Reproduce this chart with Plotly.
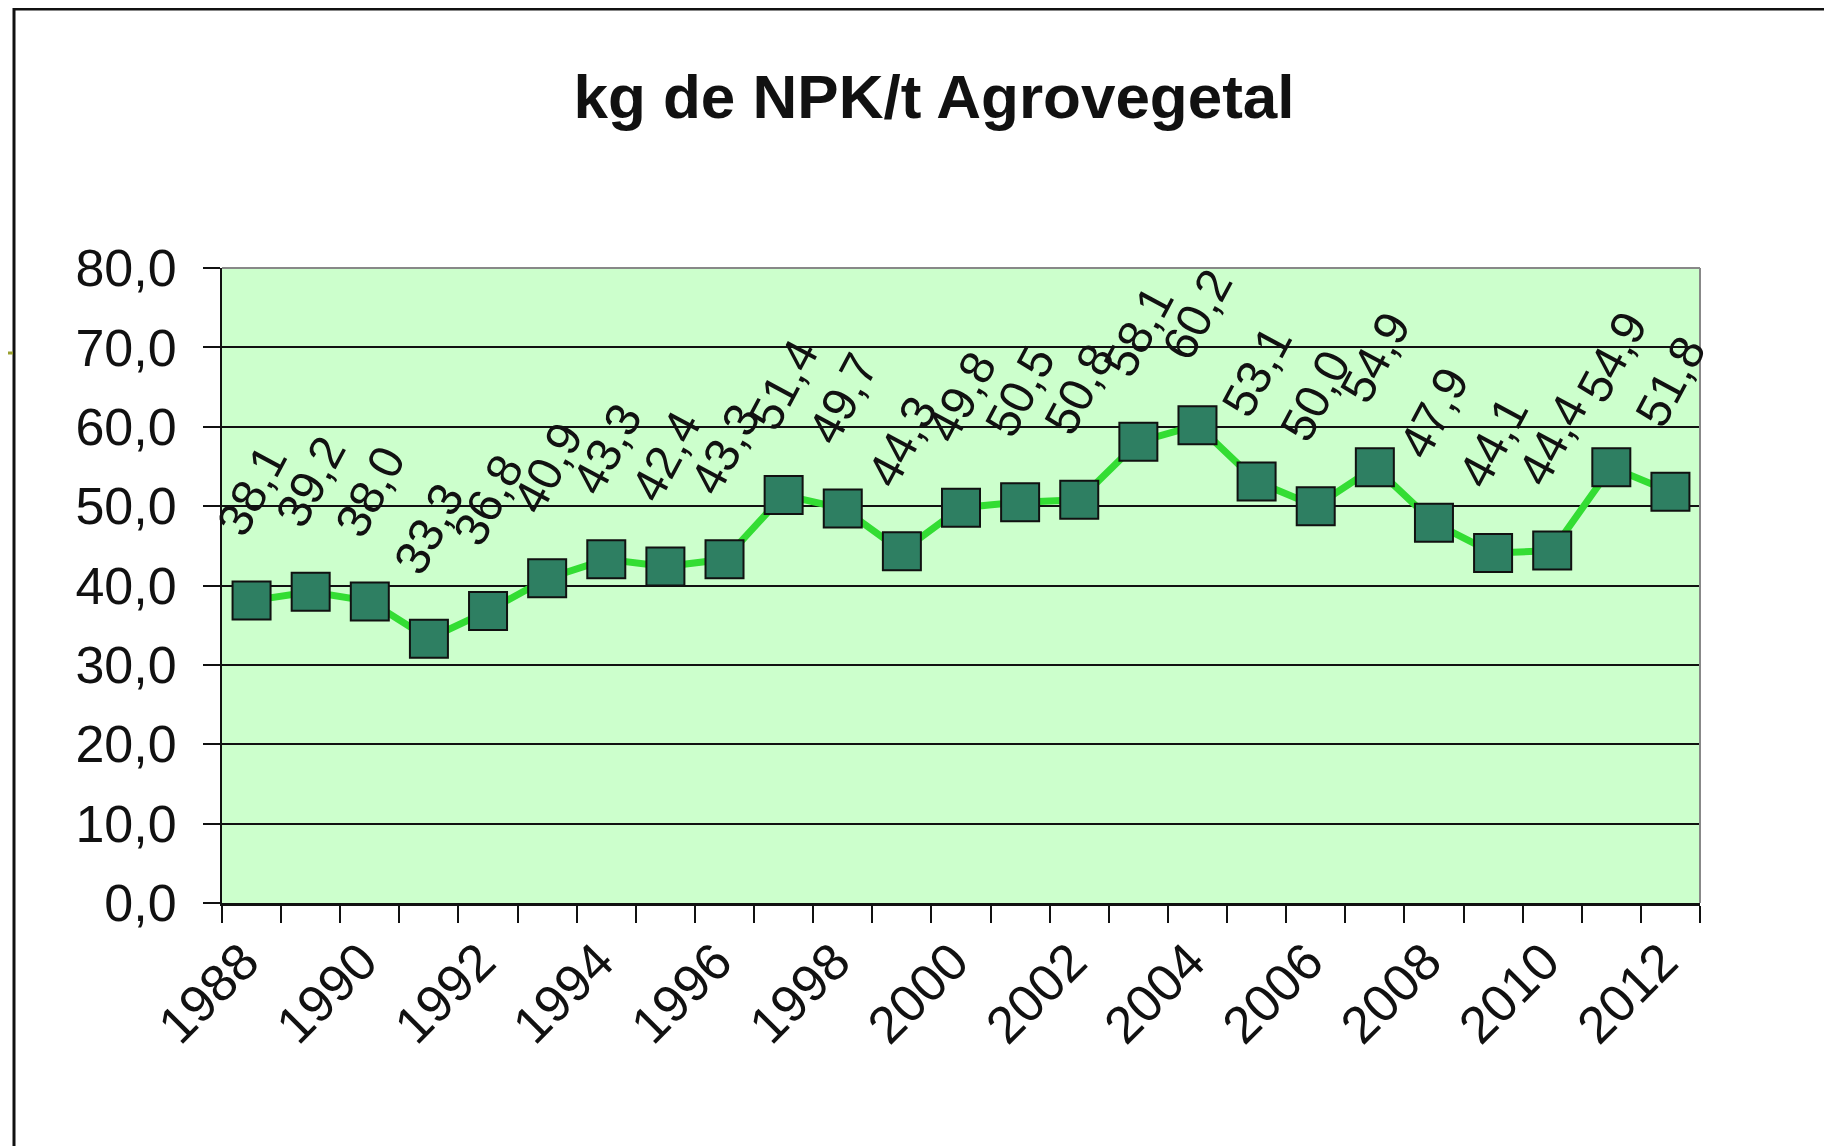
import plotly.graph_objects as go

years = list(range(1988, 2013))
npk_values = [38.1, 39.2, 38.0, 33.3, 36.8, 40.9, 43.3, 42.4, 43.3, 51.4,
              49.7, 44.3, 49.8, 50.5, 50.8, 58.1, 60.2, 53.1, 50.0, 54.9,
              47.9, 44.1, 44.4, 54.9, 51.8]
label_years = [y for y in years if y % 2 == 0]
title_text = 'kg de NPK/t Agrovegetal'

# the page body adds an 8px margin, so everything is placed 8px up/left
OFF = 8
W, H = 1832, 1146
L, R, T, B = 222 - OFF, 132 + OFF, 268 - OFF, 243 + OFF
pw, ph = W - L - R, H - T - B


def px_x(x):
    return (x - OFF - L) / pw


def px_y(y):
    return (H - B - (y - OFF)) / ph


fig = go.Figure()
fig.add_trace(go.Scatter(
    x=years, y=npk_values, mode='lines+markers',
    line=dict(color='#33dd33', width=7),
    marker=dict(symbol='square', size=38, color='#2e7f62',
                line=dict(color='#111111', width=2)),
    showlegend=False, hoverinfo='x+y'))

# rotated data labels
annotations = []
for yr, v in zip(years, npk_values):
    annotations.append(dict(
        x=yr, y=v, xref='x', yref='y',
        text=('%.1f' % v).replace('.', ','),
        textangle=-62, showarrow=False,
        xanchor='center', yanchor='bottom', yshift=54,
        font=dict(family='Liberation Sans, Arial', size=48, color='#111111')))

fig.update_layout(
    width=W, height=H,
    margin=dict(l=L, r=R, t=T, b=B, autoexpand=False),
    paper_bgcolor='white', plot_bgcolor='#ccffcc',
    separators=',.',
    font=dict(family='Liberation Sans, Arial', color='#111111'),
    title=dict(text='<b>' + title_text + '</b>', x=(934 - OFF) / W, xanchor='center',
               y=1 - (96 - OFF) / H, yanchor='middle', yref='container',
               font=dict(size=62, color='#111111')),
    annotations=annotations,
)

fig.update_xaxes(
    range=[1987.5, 2012.5],
    tickmode='array', tickvals=label_years,
    ticktext=[str(y) for y in label_years],
    tickangle=-45, tickfont=dict(size=52),
    ticks='outside', ticklen=4, tickcolor='rgba(0,0,0,0)',
    ticklabelstandoff=0, ticklabelshift=-8,
    minor=dict(tick0=1987.5, dtick=1, ticks='outside', ticklen=17,
               tickwidth=2, tickcolor='#111111', showgrid=False),
    showgrid=False, zeroline=False,
    showline=True, linecolor='#111111', linewidth=3,
)
fig.update_yaxes(
    range=[0, 80], dtick=10, tickformat='.1f',
    tickfont=dict(size=52),
    ticks='outside', ticklen=17, tickwidth=2, tickcolor='#111111',
    ticklabelstandoff=16,
    showgrid=True, gridcolor='#111111', gridwidth=2,
    zeroline=False,
    showline=True, linecolor='#111111', linewidth=2,
)

# plot area border (top / right) and the outer frame of the picture
fig.add_shape(type='line', xref='paper', yref='paper', x0=0, x1=1, y0=1, y1=1,
              line=dict(color='#888888', width=2))
fig.add_shape(type='line', xref='paper', yref='paper', x0=1, x1=1, y0=0, y1=1,
              line=dict(color='#888888', width=2))
fig.add_shape(type='rect', xref='paper', yref='paper',
              x0=px_x(14), x1=px_x(W + 20), y0=px_y(H + 20), y1=px_y(9),
              line=dict(color='#111111', width=3))
fig.add_shape(type='line', xref='paper', yref='paper',
              x0=px_x(0), x1=px_x(13), y0=px_y(353), y1=px_y(353),
              line=dict(color='#9aa030', width=3))

fig.write_html("out.html")
